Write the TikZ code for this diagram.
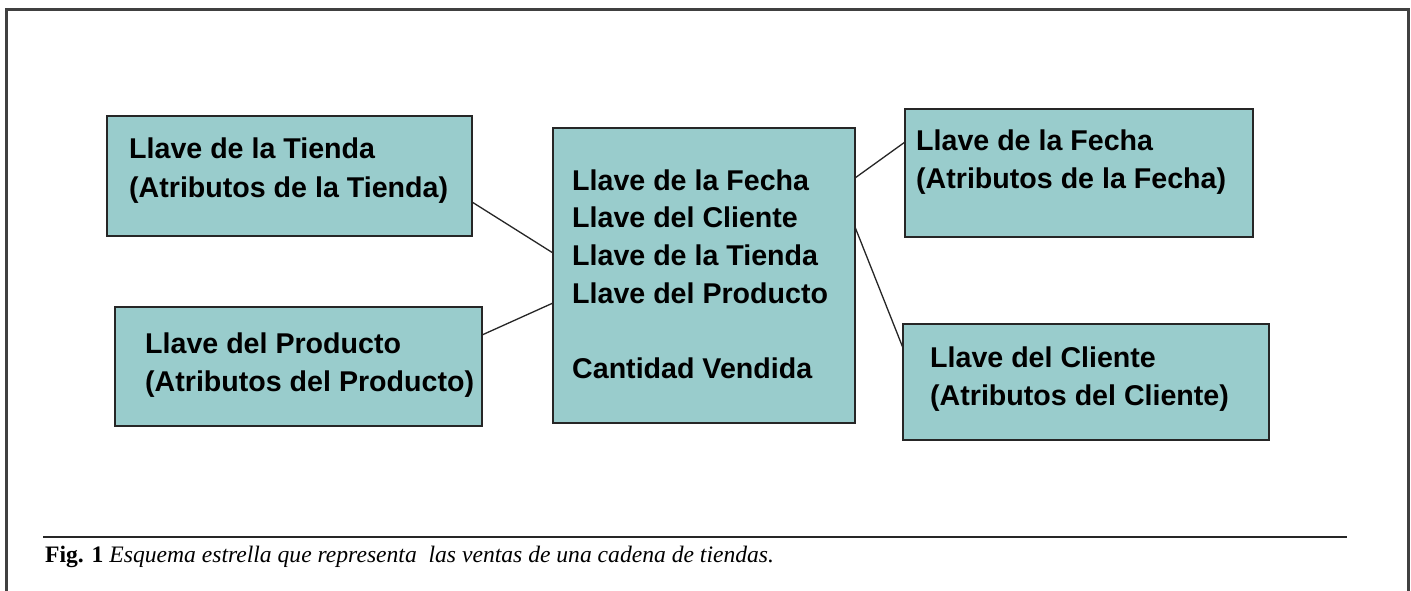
\documentclass[tikz,border=0pt]{standalone}
\usepackage{fontspec}
\newfontfamily\boxfont{Liberation Sans}
\newfontfamily\capfont{Liberation Serif}
\definecolor{boxfill}{RGB}{153,204,204}
\begin{document}
\begin{tikzpicture}[x=1pt,y=-1pt,
  box/.style={draw=black!85, line width=1.6pt, fill=boxfill, rectangle, inner sep=0pt, outer sep=0pt, anchor=north west},
  txt/.style={anchor=base west, inner sep=0pt, font=\boxfont\bfseries\fontsize{28.6}{34}\selectfont},
  link/.style={draw=black!85, line width=1.3pt},
  frameline/.style={draw=black!75, line width=3pt},
  captxt/.style={anchor=base west, inner sep=0pt, font=\capfont\fontsize{23.6}{28}\selectfont}]
\useasboundingbox (0,0) rectangle (1411,591);
\fill[white] (0,0) rectangle (1411,591);
% outer frame
\draw[frameline] (6,591) -- (6,10) -- (1408,10) -- (1408,591);
% boxes
\node[box, minimum width=365pt, minimum height=120pt] (tienda) at (107,116) {};
\node[box, minimum width=367pt, minimum height=119pt] (producto) at (115,307) {};
\node[box, minimum width=302pt, minimum height=295pt] (fact) at (553,128) {};
\node[box, minimum width=348pt, minimum height=128pt] (fecha) at (905,109) {};
\node[box, minimum width=366pt, minimum height=116pt] (cliente) at (903,324) {};
% texts
\node[txt] (t1) at (129,158) {Llave de la Tienda};
\node[txt] (t2) at (129,197) {(Atributos de la Tienda)};
\node[txt] (p1) at (145,353) {Llave del Producto};
\node[txt] (p2) at (145,391) {(Atributos del Producto)};
\node[txt] (f1) at (572,190) {Llave de la Fecha};
\node[txt] (f2) at (572,227.5) {Llave del Cliente};
\node[txt] (f3) at (572,265) {Llave de la Tienda};
\node[txt] (f4) at (572,303) {Llave del Producto};
\node[txt] (f5) at (572,378) {Cantidad Vendida};
\node[txt] (d1) at (916,150) {Llave de la Fecha};
\node[txt] (d2) at (916,188) {(Atributos de la Fecha)};
\node[txt] (c1) at (930,367) {Llave del Cliente};
\node[txt] (c2) at (930,405) {(Atributos del Cliente)};
% connectors
\draw[link] ([yshift=-26pt]tienda.east) -- ([yshift=22.5pt]fact.west);
\draw[link] ([yshift=31.5pt]producto.east) -- ([yshift=-27.5pt]fact.west);
\draw[link] ([yshift=97.5pt]fact.east) -- ([yshift=31pt]fecha.west);
\draw[link] ([yshift=48.5pt]fact.east) -- ([yshift=34pt]cliente.west);
% caption
\draw[line width=1.2pt, black!85] (43,537) -- (1347,537);
\node[captxt] (cap) at (45,562) {\textbf{Fig. 1} \textit{Esquema estrella que representa\ \ las ventas de una cadena de tiendas.}};
\end{tikzpicture}
\end{document}
